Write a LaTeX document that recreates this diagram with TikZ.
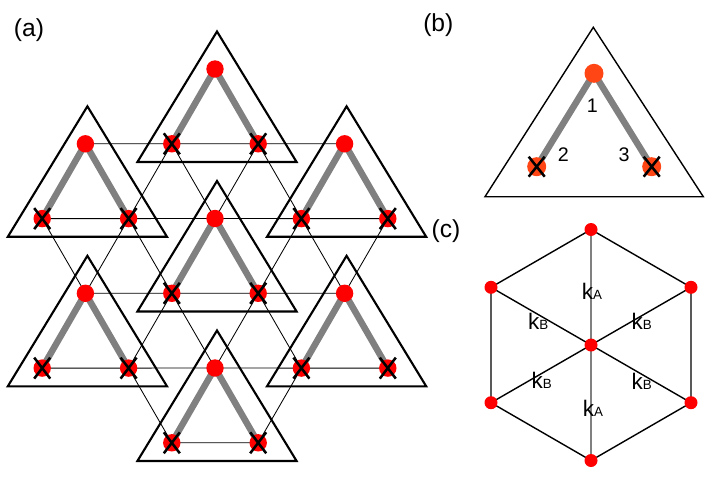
\documentclass[tikz,border=0pt]{standalone}
\usepackage{fontspec}
\setmainfont{Liberation Sans}
\definecolor{dotred}{RGB}{255,0,0}
\definecolor{dotorange}{RGB}{255,70,20}
\tikzset{
  thinbond/.style={line width=0.6pt},
  graybond/.style={line width=4.6pt,gray},
  frame/.style={line width=1.5pt,line join=miter},
  xmark/.style={line width=1.8pt},
  hexedge/.style={line width=1pt},
  panel/.style={font=\fontsize{17.5}{17.5}\selectfont},
  num/.style={font=\fontsize{14}{14}\selectfont},
  klabel/.style={font=\fontsize{16}{16}\selectfont,inner sep=0pt}
}
\newcommand{\kk}[1]{k{\fontsize{9.5}{9.5}\selectfont #1}}
\begin{document}
\begin{tikzpicture}[x=0.025cm,y=-0.025cm]
  \useasboundingbox (0,0) rectangle (706,481);
  % (a) the seven triangles, given by their top dot
  \foreach \t/\px/\py in {A/215/69,B/85.4/143.8,C/344.6/143.8,D/215/218.5,E/85.4/293.3,F/344.6/293.3,G/215/368}
  {
    \coordinate (\t1) at (\px,\py);
    \coordinate (\t2) at (\px-43.2,\py+74.8);
    \coordinate (\t3) at (\px+43.2,\py+74.8);
  }
  %% thin bonds between the dots
  \draw[thinbond] (B1) -- (A2) -- (A3) -- (C1)
    (B2) -- (B3) -- (D1) -- (C2) -- (C3)
    (E1) -- (D2) -- (D3) -- (F1)
    (E2) -- (E3) -- (G1) -- (F2) -- (F3)
    (G2) -- (G3);
  \foreach \p/\q in {A2/B3,A2/D1,A3/D1,A3/C2,B2/E1,B3/E1,B3/D2,C2/D3,C2/F1,C3/F1,D2/E3,D2/G1,D3/G1,D3/F2,E3/G2,F2/G3}
    \draw[thinbond] (\p) -- (\q);
  %% gray legs, dots, crosses and the frames
  \foreach \t in {A,B,C,D,E,F,G}
  {
    \draw[graybond] (\t2) -- (\t1) -- (\t3);
    \fill[dotred] (\t1) circle (8.7) (\t2) circle (8.7) (\t3) circle (8.7);
    \draw[xmark] (\t2) +(-8,-10.5) -- +(8,10.5) +(-8,10.5) -- +(8,-10.5);
    \draw[xmark] (\t3) +(-8,-10.5) -- +(8,10.5) +(-8,10.5) -- +(8,-10.5);
    \draw[frame] (\t1) ++(2,-37.5) -- ++(-79.6,130.5) -- ++(159.2,0) -- cycle;
  }
  \node[panel] (la) at (29,30) {(a)};
  % (b) one triangle
  \coordinate (b1) at (594,73.3);
  \coordinate (b2) at (536.7,166.7);
  \coordinate (b3) at (651.7,166.7);
  \draw[graybond] (b2) -- (b1) -- (b3);
  \fill[dotorange] (b1) circle (9.5) (b2) circle (9.5) (b3) circle (9.5);
  \draw[xmark] (b2) +(-8,-10) -- +(8,10) +(-8,10) -- +(8,-10);
  \draw[xmark] (b3) +(-8,-10) -- +(8,10) +(-8,10) -- +(8,-10);
  \draw[frame,line width=1pt] (b1) ++(-0.7,-46) -- ++(-108.3,169.4) -- ++(218.3,0) -- cycle;
  \node[num] (n1) at (592.3,106) {1};
  \node[num] (n2) at (563.3,155) {2};
  \node[num] (n3) at (624,155) {3};
  \node[panel] (lb) at (438.3,25) {(b)};
  % (c) the hexagon
  \coordinate (c0) at (591,345);
  \coordinate (c1) at (591,229.5);
  \coordinate (c2) at (691,287.3);
  \coordinate (c3) at (691,402.7);
  \coordinate (c4) at (591,460.5);
  \coordinate (c5) at (491,402.7);
  \coordinate (c6) at (491,287.3);
  \draw[gray,line width=0.8pt] (c1) -- (c4);
  \draw[hexedge] (c1) -- (c2) -- (c3) -- (c4) -- (c5) -- (c6) -- cycle;
  \draw[hexedge] (c0) -- (c2) (c0) -- (c3) (c0) -- (c5) (c0) -- (c6);
  \foreach \i in {0,...,6}
    \fill[dotred] (c\i) circle (6.5);
  \node[klabel] (kA1) at (592,291) {\kk{A}};
  \node[klabel] (kA2) at (593,408.3) {\kk{A}};
  \node[klabel] (kB1) at (538.3,321) {\kk{B}};
  \node[klabel] (kB2) at (641.7,321) {\kk{B}};
  \node[klabel] (kB3) at (541.7,380) {\kk{B}};
  \node[klabel] (kB4) at (641.7,381.7) {\kk{B}};
  \node[panel] (lc) at (446,231) {(c)};
\end{tikzpicture}
\end{document}
